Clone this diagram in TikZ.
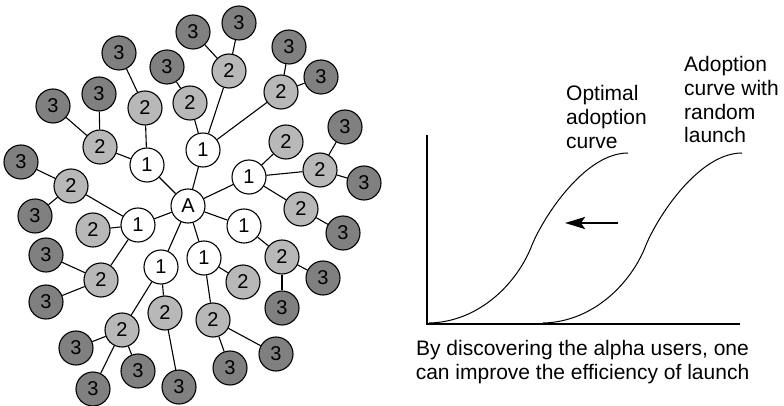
\documentclass[tikz,border=0pt]{standalone}
\usepackage{fontspec}
\setmainfont{Liberation Sans}
\usetikzlibrary{arrows.meta}

\definecolor{ringtwo}{RGB}{184,184,184}
\definecolor{ringthree}{RGB}{128,128,128}

\begin{document}
\begin{tikzpicture}[x=1pt,y=-1pt,
    user/.style={circle, draw, line width=1.1pt, minimum size=34pt, inner sep=0pt, font=\fontsize{20}{22}\selectfont},
    lvlone/.style={user, fill=white},
    lvltwo/.style={user, fill=ringtwo},
    lvlthree/.style={user, fill=ringthree},
    link/.style={line width=1.1pt},
    note/.style={font=\fontsize{21}{23.6}\selectfont, inner sep=0pt}]

    \useasboundingbox (0,0) rectangle (784,406);

    % seed user and the first ring
    \node[lvlone] (a) at (188,206) {A};
    \node[lvlone] (p1) at (147,165) {1};
    \node[lvlone] (p2) at (203,150) {1};
    \node[lvlone] (p3) at (249,177) {1};
    \node[lvlone] (p4) at (138,225) {1};
    \node[lvlone] (p5) at (244,226) {1};
    \node[lvlone] (p6) at (161,267) {1};
    \node[lvlone] (p7) at (204,258) {1};

    % second ring
    \node[lvltwo] (p1a) at (145,108) {2};
    \node[lvltwo] (p1b) at (100,147) {2};
    \node[lvltwo] (p2a) at (190,103) {2};
    \node[lvltwo] (p2b) at (229,71) {2};
    \node[lvltwo] (p2c) at (281,92) {2};
    \node[lvltwo] (p3a) at (286,142) {2};
    \node[lvltwo] (p3b) at (320,170) {2};
    \node[lvltwo] (p3c) at (301,209) {2};
    \node[lvltwo] (p4a) at (71,186) {2};
    \node[lvltwo] (p4b) at (93,230) {2};
    \node[lvltwo] (p4c) at (101,280) {2};
    \node[lvltwo] (p5a) at (282,257) {2};
    \node[lvltwo] (p6a) at (122,330) {2};
    \node[lvltwo] (p6b) at (165,313) {2};
    \node[lvltwo] (p7a) at (243,282) {2};
    \node[lvltwo] (p7b) at (213,320) {2};

    % third ring
    \node[lvlthree] (p1a1) at (119,53) {3};
    \node[lvlthree] (p1b1) at (99,94) {3};
    \node[lvlthree] (p1b2) at (53,106) {3};
    \node[lvlthree] (p2a1) at (167,67) {3};
    \node[lvlthree] (p2b1) at (193,32) {3};
    \node[lvlthree] (p2b2) at (239,23) {3};
    \node[lvlthree] (p2c1) at (289,47) {3};
    \node[lvlthree] (p2c2) at (321,77) {3};
    \node[lvlthree] (p3b1) at (345,127) {3};
    \node[lvlthree] (p3b2) at (364,183) {3};
    \node[lvlthree] (p3c1) at (343,233) {3};
    \node[lvlthree] (p4a1) at (21,162) {3};
    \node[lvlthree] (p4a2) at (35,216) {3};
    \node[lvlthree] (p4c1) at (46,255) {3};
    \node[lvlthree] (p4c2) at (46,302) {3};
    \node[lvlthree] (p5a1) at (323,278) {3};
    \node[lvlthree] (p5a2) at (282,308) {3};
    \node[lvlthree] (p6a1) at (76,348) {3};
    \node[lvlthree] (p6a2) at (93,389) {3};
    \node[lvlthree] (p6a3) at (138,371) {3};
    \node[lvlthree] (p6b1) at (179,387) {3};
    \node[lvlthree] (p7b1) at (230,368) {3};
    \node[lvlthree] (p7b2) at (276,354) {3};

    \foreach \s/\t in {a/p1, a/p2, a/p3, a/p4, a/p5, a/p6, a/p7,
        p1/p1a, p1/p1b, p1a/p1a1, p1b/p1b1, p1b/p1b2,
        p2/p2a, p2/p2b, p2/p2c, p2a/p2a1, p2b/p2b1, p2b/p2b2, p2c/p2c1, p2c/p2c2,
        p3/p3a, p3/p3b, p3/p3c, p3b/p3b1, p3b/p3b2, p3c/p3c1,
        p4/p4a, p4/p4b, p4/p4c, p4a/p4a1, p4a/p4a2, p4c/p4c1, p4c/p4c2,
        p5/p5a, p5a/p5a1, p5a/p5a2,
        p6/p6a, p6/p6b, p6a/p6a1, p6a/p6a2, p6a/p6a3, p6b/p6b1,
        p7/p7a, p7/p7b, p7b/p7b1, p7b/p7b2}
        \draw[link] (\s) -- (\t);

    % adoption curves
    \coordinate (origin) at (427,324);
    \coordinate (ytop) at (427,135);
    \coordinate (xend) at (740,324);
    \draw[line width=1.3pt] (ytop) -- (origin) -- (xend);

    \draw[line width=1pt] (429,323) .. controls (480,322) and (518,282) .. (532,245)
        .. controls (544,216) and (585,153) .. (628,153);
    \draw[line width=1pt] (543,323) .. controls (594,322) and (632,282) .. (646,245)
        .. controls (658,216) and (699,153) .. (742,153);

    \coordinate (from) at (618,223);
    \coordinate (to) at (565,223);
    \draw[line width=2.2pt, -{Stealth[length=20pt, width=12pt, inset=4pt]}] (from) -- (to);

    \node[note, anchor=north west, align=left] (optimal) at (566,85.5) {Optimal\\adoption\\curve};
    \node[note, anchor=north west, align=left] (random) at (684,56.5) {Adoption\\curve with\\random\\launch};
    \node[note, anchor=north, align=center] (caption) at (582.5,340.5) {By discovering the alpha users, one\\can improve the efficiency of launch};
    %
\end{tikzpicture}
\end{document}
